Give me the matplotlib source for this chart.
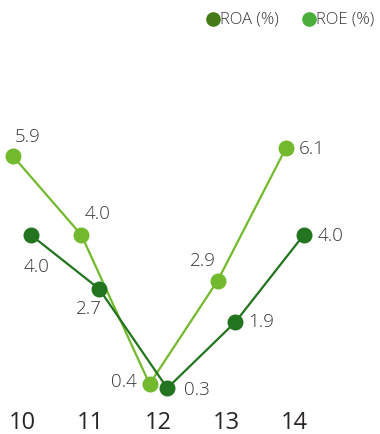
import matplotlib
matplotlib.use('Agg')
import matplotlib.pyplot as plt
import numpy as np

plt.rcParams['font.family'] = ['Open Sans', 'DejaVu Sans']

years = ['10', '11', '12', '13', '14']
roa = [4.0, 2.7, 0.3, 1.9, 4.0]
roe = [5.9, 4.0, 0.4, 2.9, 6.1]

# label offsets in pixels (dx, dy) for each point
roa_offsets = [(6, -31), (-10, -19), (30, -1), (26, 1), (27, 0)]
roe_offsets = [(14, 20), (16, 22), (-26, 3), (-15, 21), (26, 0)]

roa_color = '#22741e'
roe_color = '#72b92d'
text_color = '#3a3535'

fig = plt.figure(figsize=(3.8, 4.35), dpi=100)
ax = fig.add_axes([0, 0, 1, 1])
ax.set_xlim(-0.3226, 5.249)
ax.set_ylim(-0.807, 9.70)
ax.axis('off')

x = np.arange(len(years))
x_roa = x + 0.13
x_roe = x - 0.13

ax.plot(x_roe, roe, color=roe_color, lw=1.6, marker='o', ms=10.5, zorder=3)
ax.plot(x_roa, roa, color=roa_color, lw=1.6, marker='o', ms=10.5, zorder=4)

for xi, v, off in zip(x_roe, roe, roe_offsets):
    ax.annotate(f'{v:.1f}', (xi, v), xytext=off, textcoords='offset pixels',
                ha='center', va='center', fontsize=13.5, color=text_color,
                fontweight='light')
for xi, v, off in zip(x_roa, roa, roa_offsets):
    ax.annotate(f'{v:.1f}', (xi, v), xytext=off, textcoords='offset pixels',
                ha='center', va='center', fontsize=13.5, color=text_color,
                fontweight='light')

# year labels along the bottom
for xi, yr in zip(x, years):
    ax.text(xi, 0, yr, transform=ax.get_xaxis_transform(),
            ha='center', va='bottom', fontsize=17, color='#2a2525')

# legend
fig.lines.append(plt.Line2D([213 / 380], [1 - 20 / 435], marker='o', ms=9.5,
                            color='#457a17', transform=fig.transFigure, lw=0))
fig.text(220 / 380, 1 - 20 / 435, 'ROA (%)', ha='left', va='center',
         fontsize=12, color=text_color, fontweight='light')
fig.lines.append(plt.Line2D([309 / 380], [1 - 20 / 435], marker='o', ms=9.5,
                            color='#4aae3a', transform=fig.transFigure, lw=0))
fig.text(316 / 380, 1 - 20 / 435, 'ROE (%)', ha='left', va='center',
         fontsize=12, color=text_color, fontweight='light')

plt.savefig('out.png', dpi=100)
